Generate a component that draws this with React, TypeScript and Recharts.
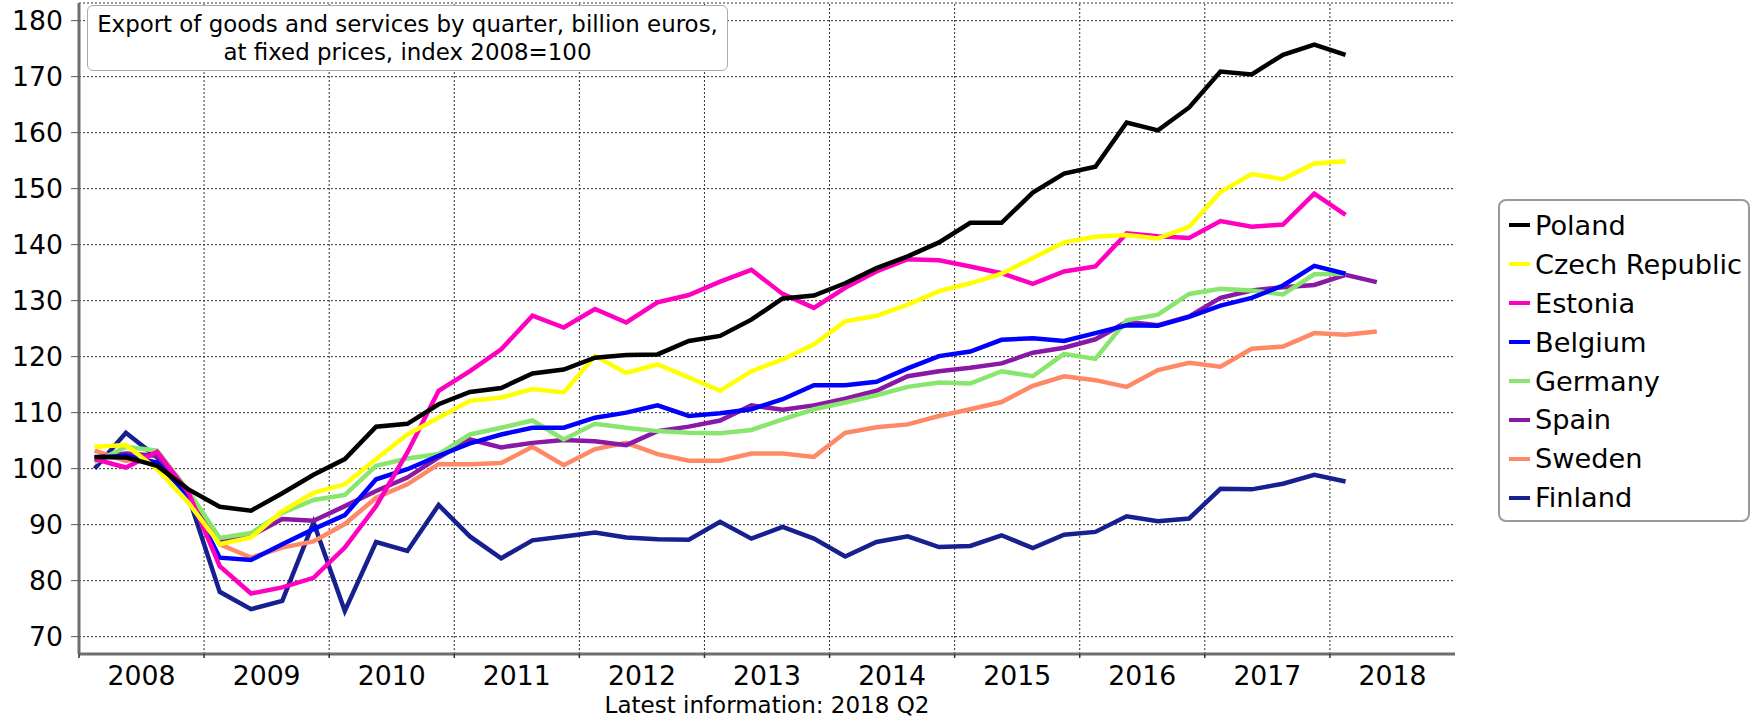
import { LineChart, Line, XAxis, YAxis, CartesianGrid, ReferenceLine, Legend } from 'recharts';

// quarterly index, 2008Q1 .. 2018Q2 (2008 = 100)
const years = ['2008', '2009', '2010', '2011', '2012', '2013', '2014', '2015', '2016', '2017', '2018'];
const countries = ['Poland', 'Czech Republic', 'Estonia', 'Belgium', 'Germany', 'Spain', 'Sweden', 'Finland'];
const colors = ['#000000', '#FFFF00', '#FF00C0', '#0000FF', '#88E66E', '#8A18A6', '#FF8866', '#16208F'];
const yTicks = [70, 80, 90, 100, 110, 120, 130, 140, 150, 160, 170, 180];

const poland = [102.1, 102.0, 100.5, 96.3, 93.2, 92.5, 95.6, 98.9, 101.7, 107.5, 108.0, 111.5, 113.7, 114.4, 117.0, 117.7, 119.8, 120.3, 120.4, 122.8, 123.7, 126.6, 130.4, 130.9, 133.1, 135.8, 137.9, 140.4, 143.9, 143.9, 149.3, 152.7, 153.9, 161.8, 160.4, 164.5, 170.9, 170.4, 173.9, 175.7, 173.9];
const czech = [103.9, 104.2, 99.9, 93.9, 86.5, 87.7, 92.4, 95.7, 97.2, 101.7, 106.1, 109.1, 112.1, 112.7, 114.2, 113.6, 120.1, 117.1, 118.6, 116.3, 113.9, 117.4, 119.5, 122.2, 126.3, 127.3, 129.3, 131.7, 133.1, 134.8, 137.6, 140.4, 141.4, 141.7, 141.1, 143.2, 149.4, 152.6, 151.7, 154.5, 154.9];
const estonia = [101.7, 100.2, 103.0, 95.7, 82.6, 77.7, 78.8, 80.5, 85.9, 93.3, 102.9, 113.9, 117.4, 121.3, 127.3, 125.2, 128.5, 126.1, 129.7, 131.0, 133.4, 135.5, 131.2, 128.7, 132.3, 135.2, 137.4, 137.2, 136.1, 134.9, 133.0, 135.2, 136.1, 142.0, 141.5, 141.2, 144.2, 143.2, 143.6, 149.1, 145.3];
const belgium = [102.0, 102.3, 101.1, 95.1, 84.1, 83.7, 86.5, 89.2, 91.7, 98.1, 99.9, 102.3, 104.5, 106.1, 107.3, 107.3, 109.1, 110.0, 111.3, 109.4, 109.9, 110.6, 112.4, 114.9, 114.9, 115.5, 117.9, 120.1, 120.9, 123.0, 123.3, 122.8, 124.2, 125.6, 125.5, 127.1, 129.1, 130.5, 132.7, 136.2, 134.8];
const germany = [101.1, 103.9, 103.2, 96.0, 87.6, 88.5, 92.1, 94.4, 95.3, 100.5, 101.8, 102.6, 106.1, 107.3, 108.6, 105.2, 108.0, 107.3, 106.7, 106.4, 106.3, 106.9, 108.8, 110.6, 111.8, 113.1, 114.6, 115.4, 115.2, 117.4, 116.5, 120.5, 119.6, 126.5, 127.5, 131.2, 132.1, 131.8, 131.1, 134.7, 134.8];
const spain = [102.0, 102.7, 102.3, 95.7, 87.1, 88.0, 91.0, 90.7, 93.3, 96.0, 98.4, 102.0, 105.2, 103.8, 104.6, 105.1, 104.9, 104.2, 106.7, 107.5, 108.6, 111.3, 110.5, 111.3, 112.5, 113.9, 116.5, 117.4, 118.0, 118.8, 120.7, 121.6, 123.1, 126.2, 125.6, 127.2, 130.5, 131.8, 132.4, 132.8, 134.6, 133.3];
const sweden = [103.2, 101.4, 102.6, 95.1, 86.5, 84.1, 85.9, 87.0, 90.1, 94.8, 97.2, 100.8, 100.8, 101.0, 103.9, 100.6, 103.5, 104.6, 102.6, 101.4, 101.4, 102.7, 102.7, 102.1, 106.4, 107.4, 107.9, 109.4, 110.6, 111.9, 114.8, 116.5, 115.8, 114.6, 117.6, 118.9, 118.2, 121.4, 121.8, 124.2, 123.9, 124.5];
const finland = [100.0, 106.4, 102.0, 95.0, 78.0, 74.9, 76.4, 90.4, 74.6, 86.9, 85.3, 93.5, 87.9, 84.0, 87.2, 87.9, 88.6, 87.7, 87.4, 87.3, 90.5, 87.5, 89.6, 87.5, 84.3, 86.9, 87.9, 86.0, 86.2, 88.1, 85.8, 88.2, 88.7, 91.5, 90.6, 91.1, 96.4, 96.3, 97.3, 98.9, 97.7];

const seriesValues = [poland, czech, estonia, belgium, germany, spain, sweden, finland];

const data = spain.map((_, i) => {
  const row: Record<string, number | null> = { q: i };
  countries.forEach((c, k) => {
    row[c] = seriesValues[k][i] ?? null;
  });
  return row;
});

// x is the quarter index; a year spans 4 slots
const yearCenters = years.map((_, k) => k * 4 + 1.5);
const yearEdges = years.map((_, k) => k * 4 - 0.5);
const gridEdges = yearEdges.slice(1);

const FONT = '"DejaVu Sans", Verdana, sans-serif';

const XTick = (props: any) => {
  const { x, y, payload } = props;
  const v = payload.value;
  if (yearEdges.includes(v)) {
    return <line x1={x} y1={y} x2={x} y2={y + 4} stroke="#333" strokeWidth={1.5} />;
  }
  const label = years[Math.round((v - 1.5) / 4)];
  return (
    <text x={x} y={y + 12} dy="0.71em" textAnchor="middle" fontSize={26.7} fill="#000" fontFamily={FONT}>
      {label}
    </text>
  );
};

const renderLegend = () => (
  <div
    style={{
      boxSizing: 'border-box',
      width: 252,
      height: 323,
      border: '2px solid #9a9a9a',
      borderRadius: 8,
      background: '#fff',
      paddingTop: 5,
      paddingLeft: 9,
      fontFamily: FONT,
    }}
  >
    {countries.map((c, k) => (
      <div key={c} style={{ display: 'flex', alignItems: 'center', height: 38.9 }}>
        <span style={{ display: 'inline-block', width: 21, height: 4, background: colors[k], marginRight: 5 }} />
        <span style={{ fontSize: 27.2, color: '#000', whiteSpace: 'nowrap' }}>{c}</span>
      </div>
    ))}
  </div>
);

export default function App() {
  return (
    <div style={{ position: 'absolute', left: 0, top: 0, width: 1761, height: 718, background: '#fff', fontFamily: FONT }}>
      <LineChart width={1761} height={718} data={data} margin={{ top: 3, right: 306, bottom: 0, left: 0 }}>
        <CartesianGrid vertical={false} stroke="#333" strokeDasharray="2 2" />
        {gridEdges.map((e) => (
          <ReferenceLine key={e} x={e} stroke="#333" strokeDasharray="2 2" />
        ))}
        <XAxis
          dataKey="q"
          type="number"
          domain={[-0.5, 43.5]}
          ticks={[...yearEdges, ...yearCenters]}
          interval={0}
          tickSize={0}
          tickMargin={0}
          tickLine={false}
          tick={<XTick />}
          height={64}
          axisLine={{ stroke: '#6e6e6e', strokeWidth: 3 }}
        />
        <YAxis
          type="number"
          domain={[66.9, 183.15]}
          ticks={yTicks}
          interval={0}
          width={79}
          tickSize={8}
          tickMargin={8}
          tickLine={{ stroke: '#555' }}
          axisLine={{ stroke: '#6e6e6e', strokeWidth: 3 }}
          tick={{ fontSize: 26.7, fill: '#000', fontFamily: FONT }}
        />
        {countries
          .map((c, k) => (
            <Line
              key={c}
              type="linear"
              dataKey={c}
              stroke={colors[k]}
              strokeWidth={4.5}
              dot={false}
              activeDot={false}
              isAnimationActive={false}
            />
          ))
          .reverse()}
        <Legend
          layout="vertical"
          align="center"
          verticalAlign="middle"
          content={renderLegend}
          wrapperStyle={{ left: 1498, top: 199, width: 252, height: 323 }}
        />
      </LineChart>
      <div
        style={{
          position: 'absolute',
          left: 87,
          top: 5,
          width: 641,
          height: 66,
          boxSizing: 'border-box',
          border: '1.5px solid #aaa',
          borderRadius: 6,
          background: '#fff',
          paddingTop: 5,
          textAlign: 'center',
          fontSize: 22.9,
          lineHeight: '27.7px',
          color: '#000',
        }}
      >
        Export of goods and services by quarter, billion euros,
        <br />
        at fixed prices, index 2008=100
      </div>
      <div
        style={{
          position: 'absolute',
          left: 0,
          top: 692,
          width: 1534,
          textAlign: 'center',
          fontSize: 23,
          lineHeight: '27px',
          color: '#000',
        }}
      >
        Latest information: 2018 Q2
      </div>
    </div>
  );
}
